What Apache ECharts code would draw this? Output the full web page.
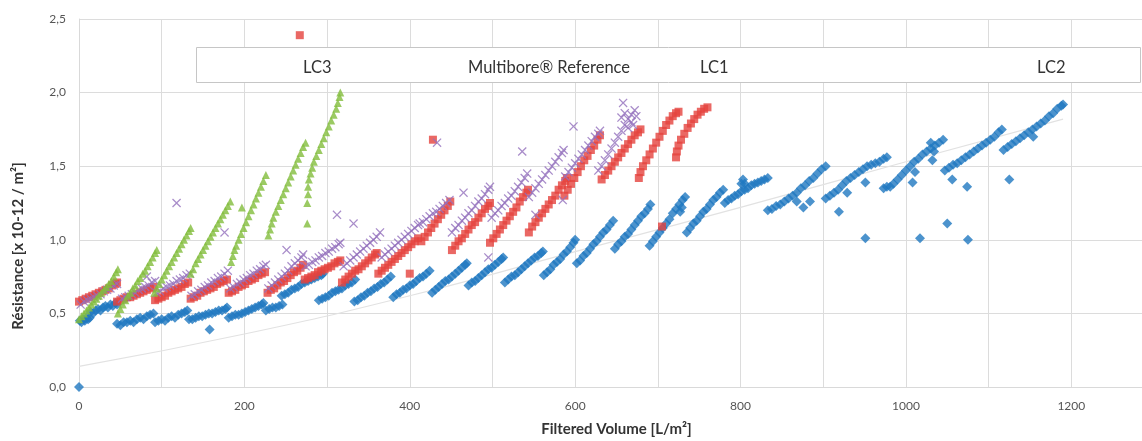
<!DOCTYPE html>
<html>
<head>
<meta charset="utf-8">
<script src="https://cdn.jsdelivr.net/npm/echarts@6/dist/echarts.min.js"></script>
<style>html,body{margin:0;padding:0;background:#fff}#c{width:1142px;height:441px}</style>
</head>
<body>
<div id="c"></div>
<script>
const seriesNames = ['LC3', 'Multibore® Reference', 'LC1', 'LC2'];
const xTitle = 'Filtered Volume [L/m²]';
const yTitle = 'Résistance [x 10-12 / m²]';

// LC3 (green triangles)
const lc3 = [
[0,0.46],[3,0.48],[6,0.50],[9,0.52],[12,0.54],[15,0.56],[18,0.58],[21,0.60],[24,0.62],[27,0.64],[30,0.66],[33,0.68],[36,0.70],[39,0.72],[42,0.75],[45,0.78],[47,0.80],
[47,0.50],[50,0.53],[53,0.56],[56,0.59],[59,0.62],[62,0.64],[65,0.67],[68,0.69],[71,0.72],[74,0.74],[77,0.77],[80,0.79],[83,0.82],[86,0.85],[89,0.88],[92,0.91],[94,0.93],
[91,0.64],[94,0.67],[97,0.70],[100,0.73],[103,0.76],[106,0.79],[109,0.82],[112,0.85],[115,0.88],[118,0.91],[121,0.94],[124,0.97],[127,1.00],[130,1.03],[133,1.06],[135,1.08],
[135,0.77],[138,0.80],[141,0.84],[144,0.87],[147,0.90],[150,0.93],[153,0.96],[156,0.99],[159,1.02],[162,1.05],[165,1.08],[168,1.11],[171,1.14],[174,1.17],[177,1.20],[180,1.23],[183,1.26],
[184,0.85],[186,0.89],[188,0.93],[190,0.96],[193,1.00],[196,1.04],[199,1.08],[202,1.12],[205,1.16],[208,1.20],[211,1.24],[214,1.28],[217,1.32],[220,1.36],[223,1.40],[226,1.44],
[229,1.03],[231,1.07],[233,1.11],[235,1.15],[238,1.19],[241,1.23],[244,1.27],[247,1.31],[250,1.35],[253,1.39],[256,1.43],[259,1.47],[262,1.51],[265,1.55],[268,1.59],[271,1.63],[274,1.66],
[277,1.36],[278,1.41],[280,1.45],[282,1.49],[284,1.53],[287,1.57],[290,1.61],[293,1.65],[296,1.69],[299,1.73],[302,1.77],[305,1.81],[308,1.85],[311,1.89],[313,1.93],[315,1.97],[316,2.00],
[276,1.11],[276,1.25],[277,1.31],[197,1.22]
];

// Multibore Reference (purple crosses)
const multibore = [
[2,0.56],[6,0.58],[10,0.59],[14,0.60],[18,0.61],[22,0.62],[26,0.63],[30,0.65],[34,0.66],[38,0.67],[42,0.69],[46,0.70],
[52,0.60],[56,0.61],[60,0.62],[64,0.63],[68,0.64],[72,0.66],[76,0.67],[80,0.68],[84,0.69],[88,0.71],[92,0.72],
[94,0.64],[98,0.65],[102,0.67],[106,0.68],[110,0.69],[114,0.70],[118,0.72],[122,0.73],[126,0.74],[130,0.76],[134,0.77],
[136,0.62],[140,0.63],[144,0.65],[148,0.66],[152,0.68],[156,0.69],[160,0.71],[164,0.72],[168,0.74],[172,0.75],[176,0.77],[180,0.79],
[183,0.67],[187,0.68],[191,0.70],[195,0.71],[199,0.73],[203,0.74],[207,0.76],[211,0.77],[215,0.79],[219,0.80],[223,0.82],[226,0.83],
[229,0.67],[233,0.69],[237,0.71],[241,0.73],[245,0.75],[249,0.77],[253,0.79],[257,0.82],[261,0.84],[265,0.86],[269,0.88],[271,0.90],
[274,0.82],[278,0.83],[282,0.85],[286,0.86],[290,0.88],[294,0.89],[298,0.91],[302,0.92],[306,0.94],[310,0.95],[314,0.97],[316,0.98],
[320,0.82],[324,0.84],[328,0.86],[332,0.88],[336,0.90],[340,0.92],[344,0.94],[348,0.96],[352,0.98],[356,1.00],[360,1.02],[364,1.05],
[366,0.88],[370,0.90],[374,0.92],[378,0.94],[382,0.96],[386,0.98],[390,1.00],[394,1.02],[398,1.04],[402,1.06],[406,1.08],[410,1.10],[412,1.11],
[416,1.12],[420,1.14],[424,1.16],[428,1.18],[432,1.19],[436,1.21],[440,1.23],[444,1.25],[448,1.27],
[451,1.05],[455,1.08],[459,1.10],[463,1.13],[467,1.15],[471,1.18],[475,1.20],[479,1.23],[483,1.26],[487,1.28],[491,1.31],[495,1.34],[497,1.36],
[499,1.15],[503,1.18],[507,1.20],[511,1.23],[515,1.25],[519,1.28],[523,1.30],[527,1.33],[531,1.36],[535,1.39],[539,1.42],[542,1.45],
[544,1.29],[548,1.32],[552,1.35],[556,1.38],[560,1.41],[564,1.44],[568,1.47],[572,1.50],[576,1.53],[580,1.56],[584,1.59],[586,1.61],
[588,1.43],[592,1.46],[596,1.49],[600,1.52],[604,1.55],[608,1.58],[612,1.61],[616,1.64],[620,1.67],[624,1.70],[628,1.72],[630,1.74],
[628,1.47],[632,1.50],[636,1.54],[640,1.58],[644,1.62],[648,1.66],[652,1.70],[656,1.74],[660,1.78],[664,1.82],[668,1.85],[672,1.88],[660,1.86],[664,1.76],[668,1.80],[656,1.83],[670,1.78],[674,1.84],
[118,1.25],[176,1.05],[82,0.75],[312,1.17],[332,1.11],[251,0.93],[433,1.66],[536,1.60],[598,1.77],[495,0.88],[465,1.32],[585,1.27],[552,1.17],[658,1.93]
];

// LC1 (red squares)
const lc1 = [
[0,0.58],[4,0.59],[8,0.60],[12,0.61],[16,0.62],[20,0.63],[24,0.64],[28,0.65],[32,0.66],[36,0.67],[40,0.69],[44,0.70],[46,0.71],
[46,0.58],[50,0.59],[54,0.60],[58,0.61],[62,0.61],[66,0.62],[70,0.63],[74,0.64],[78,0.65],[82,0.66],[86,0.67],[90,0.68],
[92,0.59],[96,0.60],[100,0.61],[104,0.62],[108,0.64],[112,0.65],[116,0.66],[120,0.67],[124,0.68],[128,0.70],[132,0.71],
[135,0.60],[139,0.61],[143,0.62],[147,0.64],[151,0.65],[155,0.66],[159,0.67],[163,0.68],[167,0.70],[171,0.71],[175,0.72],[179,0.73],
[181,0.64],[185,0.65],[189,0.66],[193,0.68],[197,0.69],[201,0.70],[205,0.72],[209,0.73],[213,0.74],[217,0.76],[221,0.77],[225,0.78],
[228,0.64],[232,0.66],[236,0.67],[240,0.69],[244,0.71],[248,0.72],[252,0.74],[256,0.76],[260,0.78],[264,0.79],[268,0.81],[271,0.83],
[273,0.73],[277,0.74],[281,0.75],[285,0.76],[289,0.78],[293,0.79],[297,0.80],[301,0.81],[305,0.82],[309,0.84],[313,0.85],[316,0.86],
[318,0.71],[322,0.73],[326,0.75],[330,0.77],[334,0.79],[338,0.80],[342,0.82],[346,0.84],[350,0.86],[354,0.88],[358,0.90],[360,0.91],
[362,0.77],[366,0.79],[370,0.81],[374,0.83],[378,0.85],[382,0.87],[386,0.89],[390,0.91],[394,0.93],[398,0.95],[402,0.97],[406,0.99],[410,1.01],
[414,0.99],[418,1.02],[422,1.05],[426,1.08],[430,1.11],[434,1.14],[438,1.17],[442,1.20],[446,1.23],[449,1.26],
[451,0.93],[455,0.96],[459,0.99],[463,1.01],[467,1.04],[471,1.07],[475,1.10],[479,1.12],[483,1.15],[487,1.18],[491,1.21],[495,1.23],[497,1.25],
[497,0.98],[501,1.01],[505,1.04],[509,1.07],[513,1.10],[517,1.13],[521,1.16],[525,1.19],[529,1.22],[533,1.26],[537,1.29],[541,1.32],[543,1.34],
[544,1.05],[548,1.09],[552,1.12],[556,1.15],[560,1.18],[564,1.21],[568,1.24],[572,1.27],[576,1.30],[580,1.34],[584,1.37],[588,1.40],[590,1.42],
[587,1.30],[591,1.34],[595,1.38],[599,1.42],[603,1.46],[607,1.50],[611,1.54],[615,1.57],[619,1.61],[623,1.64],[627,1.68],[630,1.71],
[632,1.41],[636,1.44],[640,1.47],[644,1.50],[648,1.53],[652,1.56],[656,1.59],[660,1.62],[664,1.65],[668,1.68],[672,1.71],[676,1.73],[679,1.75],
[677,1.42],[679,1.46],[682,1.50],[686,1.54],[690,1.58],[694,1.62],[698,1.66],[702,1.70],[706,1.74],[710,1.78],[714,1.81],[718,1.84],[722,1.86],[725,1.87],
[722,1.56],[723,1.60],[725,1.64],[728,1.68],[732,1.72],[736,1.76],[740,1.79],[744,1.82],[748,1.85],[752,1.87],[756,1.89],[760,1.90],
[267,2.39],[428,1.68],[400,0.77],[705,1.09]
];

// LC2 (blue diamonds)
const lc2 = [
[0,0.00],
[1,0.45],[3,0.44],[5,0.46],[7,0.45],[9,0.47],[11,0.46],[13,0.47],
[14,0.51],[17,0.50],[20,0.52],[23,0.53],[26,0.52],[29,0.54],[32,0.55],[35,0.54],[38,0.56],[41,0.55],[44,0.57],[46,0.56],
[46,0.43],[50,0.42],[54,0.44],[58,0.44],[62,0.45],[66,0.44],[70,0.46],[74,0.47],[78,0.46],[82,0.48],[86,0.49],[90,0.50],
[92,0.44],[96,0.45],[100,0.46],[104,0.45],[108,0.47],[112,0.48],[116,0.47],[120,0.49],[124,0.50],[128,0.51],[131,0.52],
[133,0.46],[137,0.46],[141,0.47],[145,0.48],[149,0.48],[153,0.49],[157,0.50],[161,0.50],[165,0.51],[169,0.52],[173,0.52],[177,0.53],[179,0.54],
[158,0.39],
[181,0.47],[185,0.48],[189,0.49],[193,0.49],[197,0.50],[201,0.51],[205,0.52],[209,0.53],[213,0.54],[217,0.55],[221,0.56],[223,0.57],
[226,0.52],[230,0.53],[234,0.54],[238,0.54],[242,0.55],[246,0.56],
[245,0.62],[249,0.63],[253,0.64],[257,0.66],[261,0.67],[265,0.68],[269,0.70],[273,0.71],[277,0.72],[281,0.73],[285,0.74],[289,0.75],[293,0.76],[295,0.77],
[290,0.59],[294,0.60],[298,0.61],[302,0.62],[306,0.64],[310,0.65],[314,0.66],[318,0.67],[322,0.69],[326,0.70],[330,0.71],[334,0.73],
[333,0.58],[337,0.59],[341,0.61],[345,0.62],[349,0.64],[353,0.65],[357,0.67],[361,0.68],[365,0.70],[369,0.71],[373,0.73],[377,0.75],
[380,0.61],[384,0.63],[388,0.64],[392,0.66],[396,0.67],[400,0.69],[404,0.70],[408,0.72],[412,0.74],[416,0.75],[420,0.77],[424,0.79],
[427,0.64],[431,0.66],[435,0.68],[439,0.70],[443,0.72],[447,0.73],[451,0.75],[455,0.77],[459,0.79],[463,0.81],[467,0.83],[469,0.84],
[471,0.69],[475,0.71],[479,0.72],[483,0.74],[487,0.76],[491,0.78],[495,0.80],[499,0.81],[503,0.83],[507,0.85],[511,0.87],[513,0.88],
[515,0.71],[519,0.73],[523,0.75],[527,0.76],[531,0.78],[535,0.80],[539,0.82],[543,0.84],[547,0.86],[551,0.88],[555,0.89],[559,0.91],[561,0.92],
[562,0.76],[566,0.78],[570,0.80],[574,0.83],[578,0.85],[582,0.87],[586,0.90],[590,0.92],[594,0.95],[598,0.98],[600,1.00],
[602,0.84],[606,0.86],[610,0.89],[614,0.91],[618,0.94],[622,0.97],[626,0.99],[630,1.02],[634,1.05],[638,1.07],[642,1.10],[646,1.13],
[648,0.94],[652,0.97],[656,0.99],[660,1.02],[664,1.04],[668,1.07],[672,1.10],[676,1.13],[680,1.16],[684,1.18],[688,1.21],[691,1.24],
[690,0.96],[694,0.99],[698,1.02],[702,1.05],[706,1.08],[710,1.11],[714,1.14],[718,1.18],[722,1.21],[726,1.24],[730,1.27],[733,1.29],[727,1.19],[729,1.22],
[735,1.05],[739,1.08],[743,1.11],[747,1.13],[751,1.16],[755,1.19],[759,1.21],[763,1.24],[767,1.27],[771,1.29],[775,1.32],[779,1.34],
[781,1.25],[785,1.27],[789,1.28],[793,1.30],[797,1.31],[801,1.33],[805,1.34],[809,1.35],[813,1.37],[817,1.38],[821,1.39],[825,1.40],[829,1.41],[833,1.42],[801,1.38],[803,1.41],[805,1.38],
[833,1.20],[838,1.21],[843,1.23],[848,1.24],[853,1.26],[858,1.28],[863,1.30],[868,1.32],[873,1.35],[878,1.37],[883,1.40],[888,1.42],[893,1.45],[898,1.48],[903,1.50],
[868,1.26],[876,1.22],[884,1.26],
[903,1.28],[908,1.30],[913,1.32],[918,1.34],[923,1.37],[928,1.40],[933,1.42],[938,1.44],[943,1.46],[948,1.48],[953,1.50],[958,1.51],[963,1.52],[968,1.53],[973,1.55],[977,1.56],
[919,1.19],[929,1.32],[951,1.39],[951,1.01],
[973,1.35],[977,1.36],[981,1.36],[985,1.38],[990,1.41],[995,1.44],[1000,1.47],[1005,1.50],[1010,1.53],[1015,1.55],[1020,1.58],[1025,1.60],[1030,1.62],[1035,1.64],[1040,1.66],[1045,1.68],[1030,1.66],[1034,1.60],
[1008,1.39],[1011,1.46],[1017,1.01],[1032,1.54],[1050,1.11],
[1047,1.47],[1052,1.49],[1057,1.51],[1062,1.52],[1067,1.54],[1072,1.56],[1077,1.58],[1082,1.60],[1087,1.62],[1092,1.64],[1097,1.66],[1102,1.68],[1107,1.70],[1112,1.73],[1116,1.75],
[1056,1.41],[1074,1.36],[1075,1.00],
[1118,1.61],[1123,1.63],[1128,1.65],[1133,1.67],[1138,1.69],[1143,1.71],[1148,1.73],[1153,1.75],[1158,1.77],[1163,1.79],[1168,1.81],[1173,1.84],[1178,1.86],[1183,1.89],[1188,1.91],[1190,1.92],
[1125,1.41],[1154,1.70]
];

// faint trend line of LC2
const lc2Trend = [[0,0.14],[200,0.36],[400,0.62],[600,0.92],[800,1.22],[1000,1.53],[1190,1.82]];

const FONT = 'Lato, "Open Sans", sans-serif';
const crossPath = 'path://M0,1 L1,0 L5,4 L9,0 L10,1 L6,5 L10,9 L9,10 L5,6 L1,10 L0,9 L4,5 Z';
const colors = { lc3: '#82bd3c', mb: '#9470bd', lc1: '#e5423d', lc2: '#1f78c0' };

function legendAt(name, left) {
  return {
    data: [name], left: left, top: 54, itemWidth: 0, itemHeight: 0, itemGap: 0,
    selectedMode: false, z: 10,
    textStyle: { fontFamily: FONT, fontSize: 16.5, color: '#333' }
  };
}

const chart = echarts.init(document.getElementById('c'), null, { renderer: 'canvas' });
chart.setOption({
  animation: false,
  backgroundColor: '#fff',
  grid: { left: 79, width: 1075, top: 19, bottom: 54, containLabel: false, outerBoundsMode: 'none' },
  graphic: [{
    type: 'rect', left: 196, top: 47, z: 5,
    shape: { width: 944, height: 35 },
    style: { fill: '#fff', stroke: '#c6c6c6', lineWidth: 1 }
  }],
  legend: [legendAt(seriesNames[0], 293), legendAt(seriesNames[1], 458), legendAt(seriesNames[2], 690), legendAt(seriesNames[3], 1027)],
  xAxis: {
    type: 'value', min: 0, max: 1300, interval: 100,
    name: xTitle, nameLocation: 'middle', nameGap: 35,
    nameTextStyle: { fontFamily: FONT, fontSize: 15, fontWeight: 'bold', color: '#333', padding: [0, 0, 0, 0] },
    axisLine: { show: true, lineStyle: { color: '#d9d9d9' } },
    axisTick: { show: false },
    axisLabel: { fontFamily: FONT, fontSize: 12, color: '#555', margin: 13, showMaxLabel: false,
      formatter: v => (v % 200 === 0 ? String(v) : '') },
    splitLine: { show: true, lineStyle: { color: '#dcdcdc' } }
  },
  yAxis: {
    type: 'value', min: 0, max: 2.5, interval: 0.5,
    name: yTitle, nameLocation: 'middle', nameGap: 53,
    nameTextStyle: { fontFamily: FONT, fontSize: 15, fontWeight: 'bold', color: '#333', padding: [0, 86, 0, 0] },
    axisLine: { show: true, lineStyle: { color: '#d9d9d9' } },
    axisTick: { show: false },
    axisLabel: { fontFamily: FONT, fontSize: 12, color: '#555', margin: 13,
      formatter: v => v.toFixed(1).replace('.', ',') },
    splitLine: { show: true, lineStyle: { color: '#dcdcdc' } }
  },
  series: [
    { name: 'LC2 trend', type: 'line', data: lc2Trend, smooth: true, showSymbol: false, silent: true,
      lineStyle: { color: '#e2e2e2', width: 1.2 }, z: 1 },
    { name: seriesNames[3], type: 'scatter', data: lc2, symbol: 'diamond', symbolSize: 10,
      itemStyle: { color: colors.lc2 }, z: 2 },
    { name: seriesNames[2], type: 'scatter', data: lc1, symbol: 'rect', symbolSize: 8,
      itemStyle: { color: colors.lc1 }, z: 3 },
    { name: seriesNames[1], type: 'scatter', data: multibore, symbol: crossPath, symbolSize: 9,
      itemStyle: { color: colors.mb }, z: 4 },
    { name: seriesNames[0], type: 'scatter', data: lc3, symbol: 'triangle', symbolSize: 8,
      itemStyle: { color: colors.lc3 }, z: 5 }
  ]
});
</script>
</body>
</html>
